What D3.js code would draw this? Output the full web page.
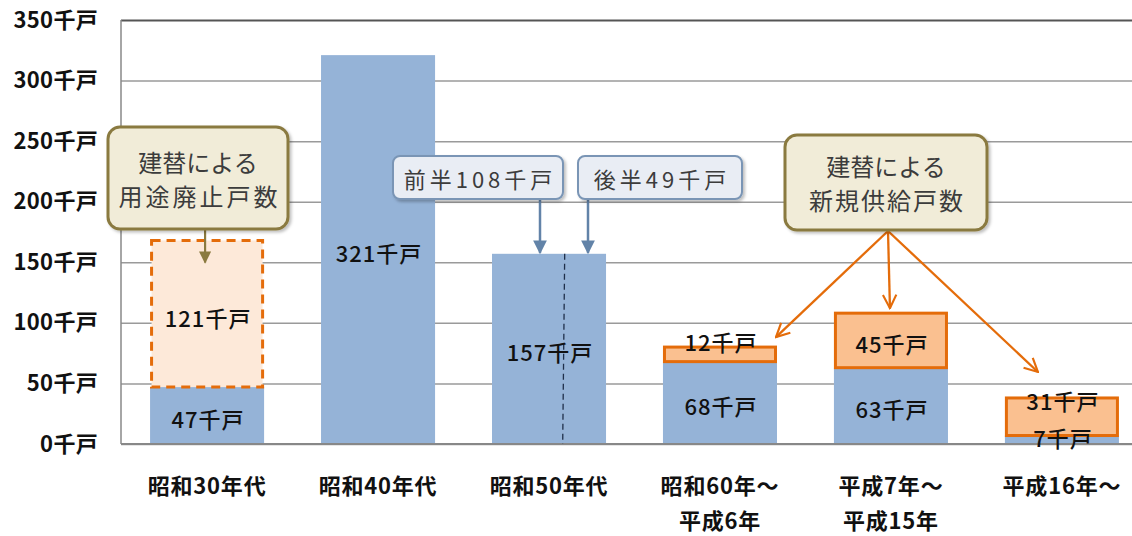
<!DOCTYPE html>
<html lang="ja">
<head>
    <meta charset="UTF-8">
    <script src="https://cdn.jsdelivr.net/npm/d3@7"></script>
    <title>建替による戸数</title>
    <style>
        body { margin: 0; background: #fff; }
        text { font-family: "Noto Sans CJK JP", "Noto Sans", sans-serif; }
    </style>
</head>
<body>
    <div class="fig"></div>
    <script>
        // data (千戸)
        const categories = ["昭和30年代", "昭和40年代", "昭和50年代", "昭和60年～平成6年", "平成7年～平成15年", "平成16年～"];
        const categoryLines = [["昭和30年代"], ["昭和40年代"], ["昭和50年代"], ["昭和60年～", "平成6年"], ["平成7年～", "平成15年"], ["平成16年～"]];
        const existing = [47, 321, 157, 68, 63, 7];
        const abolished = [121, 0, 0, 0, 0, 0];
        const newSupply = [0, 0, 0, 12, 45, 31];
        const yTicks = [0, 50, 100, 150, 200, 250, 300, 350];
        const unit = "千戸";

        const width = 1132, height = 536;
        const svg = d3.select(".fig").append("svg")
            .attr("width", width)
            .attr("height", height);

        const y = d3.scaleLinear().domain([0, 350]).range([444, 20]);
        const x = d3.scaleBand().domain(categories).range([121, 1148])
            .paddingInner(0.333).paddingOuter(0.17);
        const bw = x.bandwidth();

        // arrow markers
        const defs = svg.append("defs");
        const addTri = (id, color) => defs.append("marker")
            .attr("id", id).attr("viewBox", "0 0 10 10")
            .attr("refX", 9).attr("refY", 5)
            .attr("markerWidth", 6).attr("markerHeight", 5.5)
            .attr("markerUnits", "strokeWidth")
            .attr("orient", "auto")
            .append("path").attr("d", "M0,0L10,5L0,10Z").attr("fill", color);
        addTri("triOlive", "#8a7a3f");
        addTri("triBlue", "#6283a8");
        defs.append("marker")
            .attr("id", "vOrange").attr("viewBox", "0 0 12 12")
            .attr("refX", 11).attr("refY", 6)
            .attr("markerWidth", 7).attr("markerHeight", 7)
            .attr("markerUnits", "strokeWidth")
            .attr("orient", "auto")
            .append("path").attr("d", "M1,1L11,6L1,11")
            .attr("fill", "none").attr("stroke", "#e46c0a").attr("stroke-width", 1.6);
        const shadow = defs.append("filter").attr("id", "shadow")
            .attr("x", "-10%").attr("y", "-10%").attr("width", "130%").attr("height", "140%");
        shadow.append("feDropShadow").attr("dx", 2).attr("dy", 2).attr("stdDeviation", 1.5)
            .attr("flood-color", "#000").attr("flood-opacity", 0.25);

        // gridlines
        svg.append("g")
            .attr("transform", "translate(121,0)")
            .call(d3.axisLeft(y).tickValues(yTicks).tickSize(-(width - 121)).tickFormat(""))
            .call(g => g.select(".domain").remove())
            .call(g => g.selectAll(".tick line")
                .attr("stroke", d => d === 350 ? "#555" : "#9a9a9a")
                .attr("stroke-width", d => d === 350 ? 2 : 1.5));

        // y labels
        svg.append("g")
            .attr("transform", "translate(121,0)")
            .call(d3.axisLeft(y).tickValues(yTicks).tickSize(0).tickPadding(23).tickFormat(d => d + unit))
            .call(g => g.select(".domain").remove())
            .call(g => g.selectAll("text")
                .attr("font-size", 22).attr("font-weight", "bold").attr("fill", "#111")
                .attr("letter-spacing", 0.3)
                .attr("font-family", '"Noto Sans CJK JP", sans-serif'));

        const rows = categories.map((c, i) => ({ c, i, base: existing[i], ab: abolished[i], ns: newSupply[i] }));

        // blue bars
        svg.append("g").selectAll("rect").data(rows).join("rect")
            .attr("x", d => x(d.c)).attr("width", bw)
            .attr("y", d => y(d.base)).attr("height", d => y(0) - y(d.base))
            .attr("fill", "#95b3d7");

        // dashed box: 用途廃止
        svg.append("g").selectAll("rect").data(rows.filter(d => d.ab > 0)).join("rect")
            .attr("x", d => x(d.c) + 1.5).attr("width", bw - 3)
            .attr("y", d => y(d.base + d.ab)).attr("height", d => y(d.base) - y(d.base + d.ab))
            .attr("fill", "#fde9d9").attr("stroke", "#e46c0a")
            .attr("stroke-width", 3).attr("stroke-dasharray", "9,6");

        // orange: 新規供給
        svg.append("g").selectAll("rect").data(rows.filter(d => d.ns > 0)).join("rect")
            .attr("x", d => x(d.c) + 1.5).attr("width", bw - 3)
            .attr("y", d => y(d.base + d.ns)).attr("height", d => y(d.base) - y(d.base + d.ns))
            .attr("fill", "#fac090").attr("stroke", "#e46c0a").attr("stroke-width", 3);

        // baseline + left axis
        svg.append("line").attr("x1", 121).attr("x2", width).attr("y1", y(0)).attr("y2", y(0))
            .attr("stroke", "#888").attr("stroke-width", 2);
        svg.append("line").attr("x1", 121).attr("x2", 121).attr("y1", y(350)).attr("y2", y(0))
            .attr("stroke", "#888").attr("stroke-width", 1.5);

        // 前半 / 後半 split line in 昭和50年代
        const c3 = categories[2];
        svg.append("line")
            .attr("x1", x(c3) + bw * 0.62 + 2).attr("x2", x(c3) + bw * 0.62)
            .attr("y1", y(existing[2])).attr("y2", y(0))
            .attr("stroke", "#1f2f4a").attr("stroke-width", 1.3).attr("stroke-dasharray", "6,4");

        // value labels
        const lab = svg.append("g").attr("font-size", 22).attr("font-weight", 500)
            .attr("letter-spacing", 1).attr("fill", "#111")
            .attr("text-anchor", "middle").attr("dominant-baseline", "central");
        rows.forEach(d => {
            const cx = x(d.c) + bw / 2;
            const bh = y(0) - y(d.base);
            lab.append("text").attr("x", cx + 1)
                .attr("y", bh < 20 ? y(0) - 7 : (y(d.base) + y(0)) / 2 + 2).text(d.base + unit);
            if (d.ab > 0) {
                lab.append("text").attr("x", cx + 1)
                    .attr("y", (y(d.base + d.ab) + y(d.base)) / 2 + 3).text(d.ab + unit);
            }
            if (d.ns > 0) {
                const top = y(d.base + d.ns), h = y(d.base) - top;
                const ly = h > 40 ? top + h / 2 + 3 : (h < 20 ? top - 6 : top + 2);
                lab.append("text").attr("x", cx + 1).attr("y", ly).text(d.ns + unit);
            }
        });

        // category labels
        const cat = svg.append("g").attr("font-size", 22).attr("font-weight", "bold")
            .attr("letter-spacing", 0.8).attr("fill", "#111").attr("text-anchor", "middle");
        categoryLines.forEach((lines, i) => {
            lines.forEach((t, k) => {
                cat.append("text").attr("x", x(categories[i]) + bw / 2)
                    .attr("y", 494 + k * 35).text(t);
            });
        });

        // callouts
        const callout = (bx, by, bw2, bh, lines, fill, stroke, sw, rx, fs, ls) => {
            const g = svg.append("g");
            g.append("rect").attr("x", bx).attr("y", by).attr("width", bw2).attr("height", bh)
                .attr("rx", rx).attr("fill", fill).attr("stroke", stroke).attr("stroke-width", sw)
                .attr("filter", "url(#shadow)");
            lines.forEach((t, k) => {
                g.append("text").attr("x", bx + bw2 / 2 + (ls[k] || 0) / 2)
                    .attr("y", by + bh / 2 + (k - (lines.length - 1) / 2) * 34)
                    .attr("text-anchor", "middle").attr("dominant-baseline", "central")
                    .attr("font-size", fs).attr("letter-spacing", ls[k] || 0)
                    .attr("fill", "#3c3c3c").text(t);
            });
        };

        const arrow = (x1, y1, x2, y2, color, w, marker) => svg.append("line")
            .attr("x1", x1).attr("y1", y1).attr("x2", x2).attr("y2", y2)
            .attr("stroke", color).attr("stroke-width", w)
            .attr("marker-end", "url(#" + marker + ")");

        // 用途廃止
        const c1 = x(categories[0]) + bw / 2;
        arrow(c1 - 2, 229, c1 - 2, y(existing[0] + abolished[0]) + 22, "#8a7a3f", 2.2, "triOlive");
        callout(108, 127, 180, 102, ["建替による", "用途廃止戸数"], "#f1ecd8", "#8a7a3f", 3, 12, 24, [0, 3]);

        // 前半 / 後半
        arrow(540, 199, 540, y(existing[2]) - 1, "#6283a8", 2.5, "triBlue");
        arrow(588, 199, 588, y(existing[2]) - 1, "#6283a8", 2.5, "triBlue");
        callout(393, 156, 170, 43, ["前半108千戸"], "#e9edf4", "#7a95b5", 2, 7, 22, [4]);
        callout(578, 156, 164, 43, ["後半49千戸"], "#e9edf4", "#7a95b5", 2, 7, 22, [4]);

        // 新規供給
        const c4 = x(categories[3]) + bw / 2, c5 = x(categories[4]) + bw / 2, c6 = x(categories[5]) + bw / 2;
        arrow(888, 231, c4 + 56, y(existing[3] + newSupply[3]) - 10, "#e46c0a", 2.3, "vOrange");
        arrow(888, 231, c5 - 1, y(existing[4] + newSupply[4]) - 5, "#e46c0a", 2.3, "vOrange");
        arrow(888, 231, c6 - 24, y(existing[5] + newSupply[5]) - 26, "#e46c0a", 2.3, "vOrange");
        callout(785, 135, 202, 95, ["建替による", "新規供給戸数"], "#f1ecd8", "#8a7a3f", 3, 12, 24, [0, 2]);
    </script>
</body>
</html>
